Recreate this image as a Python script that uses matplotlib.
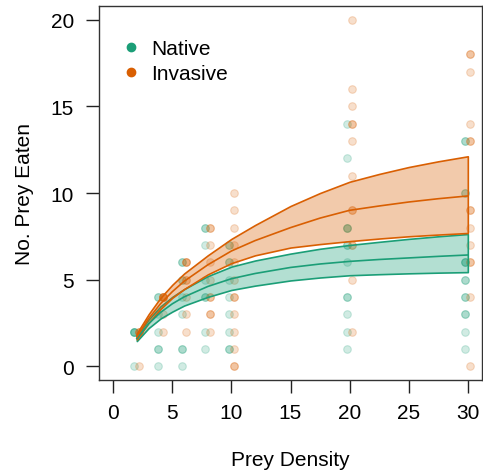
import numpy as np
from matplotlib import pyplot as plt
from matplotlib.colors import to_rgba
from matplotlib.lines import Line2D

plt.rcParams['font.family'] = ['Liberation Sans', 'DejaVu Sans']

# raw observations (prey density offered, prey eaten)
native_density = [2, 2, 2, 2, 2,
                  4, 4, 4, 4, 4, 4, 4,
                  6, 6, 6, 6, 6, 6, 6, 6, 6,
                  8, 8, 8, 8, 8, 8, 8, 8,
                  10, 10, 10, 10, 10, 10, 10, 10, 10, 10,
                  20, 20, 20, 20, 20, 20, 20, 20, 20, 20, 20, 20, 20,
                  30, 30, 30, 30, 30, 30, 30, 30, 30, 30, 30, 30, 30, 30, 30]
native_eaten = [0, 2, 2, 2, 2,
                4, 4, 3, 2, 1, 1, 0,
                6, 6, 5, 5, 4, 3, 1, 1, 0,
                8, 8, 7, 5, 4, 4, 2, 1,
                7, 7, 6, 6, 5, 4, 3, 2, 1, 1,
                14, 12, 8, 8, 8, 7, 7, 6, 4, 4, 3, 2, 1,
                13, 13, 10, 10, 6, 6, 6, 5, 5, 4, 4, 3, 3, 2, 1]

invasive_density = [2, 2, 2, 2,
                    4, 4, 4, 4, 4, 4, 4,
                    6, 6, 6, 6, 6, 6, 6, 6,
                    8, 8, 8, 8, 8, 8, 8, 8, 8, 8,
                    10, 10, 10, 10, 10, 10, 10, 10, 10, 10, 10, 10, 10,
                    20, 20, 20, 20, 20, 20, 20, 20, 20, 20, 20, 20, 20,
                    30, 30, 30, 30, 30, 30, 30, 30, 30, 30, 30, 30, 30, 30]
invasive_eaten = [0, 2, 2, 2,
                  4, 4, 4, 4, 4, 3, 2,
                  6, 6, 6, 5, 5, 4, 3, 2,
                  8, 8, 7, 6, 5, 4, 4, 3, 3, 2,
                  10, 9, 8, 7, 6, 5, 4, 4, 3, 2, 1, 0, 0,
                  20, 16, 15, 14, 14, 13, 11, 9, 9, 7, 7, 5, 2,
                  18, 18, 17, 14, 13, 13, 9, 9, 8, 7, 6, 6, 4, 0]

# fitted functional response curves with bootstrap bands
curve_x = [2, 3, 4, 5, 6, 8, 10, 12, 15, 17.5, 20, 22.5, 25, 27.5, 30]
native_lo = [1.45, 2.2, 2.75, 3.15, 3.5, 4.0, 4.4, 4.65, 4.95, 5.12, 5.25,
             5.31, 5.36, 5.4, 5.43]
native_fit = [1.6, 2.45, 3.1, 3.6, 4.0, 4.6, 5.05, 5.35, 5.7, 5.9, 6.05,
              6.16, 6.25, 6.34, 6.42]
native_hi = [1.75, 2.7, 3.45, 4.0, 4.45, 5.2, 5.75, 6.1, 6.5, 6.78, 7.0,
             7.18, 7.35, 7.5, 7.63]
invasive_lo = [1.55, 2.5, 3.3, 3.95, 4.45, 5.3, 5.95, 6.4, 6.85, 7.05, 7.22,
               7.37, 7.5, 7.6, 7.69]
invasive_fit = [1.7, 2.75, 3.6, 4.3, 4.9, 5.85, 6.65, 7.25, 8.0, 8.55, 9.0,
                9.25, 9.48, 9.67, 9.83]
invasive_hi = [1.9, 3.0, 3.95, 4.7, 5.35, 6.4, 7.35, 8.15, 9.25, 10.0, 10.65,
               11.1, 11.5, 11.83, 12.12]

green = '#1B9E77'
orange = '#D95F02'

fig = plt.figure(figsize=(4.83, 4.77), dpi=100)
ax = fig.add_axes([99 / 483, 1 - 381 / 477, 383 / 483, 374 / 477])

ax.scatter(np.array(native_density) - 0.2, native_eaten, s=30,
           facecolor=to_rgba(green, 0.2), edgecolor=to_rgba(green, 0.22),
           linewidths=0.8, zorder=2)
ax.scatter(np.array(invasive_density) + 0.2, invasive_eaten, s=30,
           facecolor=to_rgba(orange, 0.2), edgecolor=to_rgba(orange, 0.22),
           linewidths=0.8, zorder=2)

for lo, fit, hi, c in [(native_lo, native_fit, native_hi, green),
                       (invasive_lo, invasive_fit, invasive_hi, orange)]:
    ax.fill_between(curve_x, lo, hi, facecolor=to_rgba(c, 0.33),
                    edgecolor=c, linewidth=1.2, zorder=3)
    ax.plot(curve_x, fit, color=c, lw=1.2, zorder=4)

ax.set_xlim(-1.2, 31.2)
ax.set_ylim(-0.8, 20.8)
ax.set_xticks([0, 5, 10, 15, 20, 25, 30])
ax.set_yticks([0, 5, 10, 15, 20])
ax.tick_params(axis='both', direction='out', length=9.5, width=1.0,
               labelsize=15, color='#222222')
ax.tick_params(axis='x', pad=7)
ax.tick_params(axis='y', pad=8.5)
for sp in ax.spines.values():
    sp.set_color('#333333')
    sp.set_linewidth(1.0)

fig.text(290 / 483, 1 - 461 / 477, 'Prey Density', fontsize=15,
         ha='center', va='center')
fig.text(25 / 483, 1 - 194 / 477, 'No. Prey Eaten', fontsize=15,
         ha='center', va='center', rotation=90)

handles = [Line2D([], [], ls='none', marker='o', ms=6, color=green),
           Line2D([], [], ls='none', marker='o', ms=6, color=orange)]
ax.legend(handles, ['Native', 'Invasive'], loc='upper left',
          bbox_to_anchor=(0.063, 0.912), frameon=False, fontsize=15,
          handlelength=0.8, handletextpad=0.55, labelspacing=0.3,
          borderpad=0, borderaxespad=0)

fig.savefig('out.png', dpi=100)
